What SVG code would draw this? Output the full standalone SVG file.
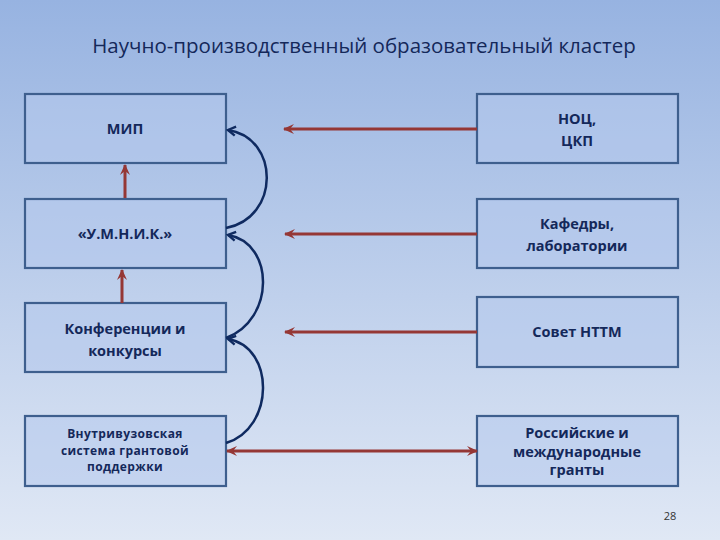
<svg xmlns="http://www.w3.org/2000/svg" width="720" height="540" viewBox="0 0 720 540">
<defs>
<linearGradient id="bg" x1="0" y1="0" x2="0" y2="1">
<stop offset="0" stop-color="#97b3e1"/>
<stop offset="1" stop-color="#e0e8f5"/>
</linearGradient>
<marker id="ra" markerWidth="12" markerHeight="12" refX="10" refY="6" orient="auto-start-reverse" markerUnits="userSpaceOnUse">
<path d="M0,1 L11,6 L0,11 L4,6 Z" fill="#953735"/>
</marker>
<marker id="ba" markerWidth="12" markerHeight="12" refX="9.5" refY="6" orient="auto" markerUnits="userSpaceOnUse">
<path d="M2,1.5 L9.5,6 L2,10.5" fill="none" stroke="#0f2a60" stroke-width="2.4"/>
</marker>
<style>
.box{fill:#b4c8ec;fill-opacity:0.55;stroke:#3e5f8e;stroke-width:2.2}
.t{font-family:"Open Sans","Noto Sans","DejaVu Sans",sans-serif;font-weight:bold;font-size:14.5px;fill:#14285a;text-anchor:middle}
.s{font-size:12px;letter-spacing:0.4px}
.red{stroke:#953735;stroke-width:3;fill:none}
.blue{stroke:#0f2a60;stroke-width:2.5;fill:none}
</style>
</defs>
<rect width="720" height="540" fill="url(#bg)"/>
<text x="364" y="53" font-family="'Open Sans','Noto Sans',sans-serif" font-size="20.5" fill="#14285a" text-anchor="middle">Научно-производственный образовательный кластер</text>

<g id="mip"><rect class="box" x="25" y="94" width="201" height="69"/><text class="t" x="125" y="134">МИП</text></g>
<g id="umnik"><rect class="box" x="25" y="199" width="201" height="69"/><text class="t" x="125" y="239">«У.М.Н.И.К.»</text></g>
<g id="conf"><rect class="box" x="25" y="303" width="201" height="69"/><text class="t" x="125" y="334">Конференции и</text><text class="t" x="125" y="356">конкурсы</text></g>
<g id="vnutri"><rect class="box" x="25" y="416" width="201" height="70"/><text class="t s" x="125" y="438">Внутривузовская</text><text class="t s" x="125" y="454.5">система грантовой</text><text class="t s" x="125" y="471">поддержки</text></g>

<g id="noc"><rect class="box" x="477" y="94" width="201" height="69"/><text class="t" x="577" y="124">НОЦ,</text><text class="t" x="577" y="146">ЦКП</text></g>
<g id="kaf"><rect class="box" x="477" y="199" width="201" height="69"/><text class="t" x="577" y="229">Кафедры,</text><text class="t" x="577" y="251">лаборатории</text></g>
<g id="sovet"><rect class="box" x="477" y="297" width="201" height="70"/><text class="t" x="577" y="337">Совет НТТМ</text></g>
<g id="ros"><rect class="box" x="477" y="416" width="201" height="70"/><text class="t" x="577" y="438">Российские и</text><text class="t" x="577" y="456.5">международные</text><text class="t" x="577" y="475">гранты</text></g>

<text x="670" y="520" font-family="'Open Sans','Noto Sans',sans-serif" font-size="11" fill="#333" text-anchor="middle">28</text>

<g id="connectors">
<line class="red" x1="477" y1="129" x2="284" y2="129" marker-end="url(#ra)"/>
<line class="red" x1="477" y1="234" x2="285" y2="234" marker-end="url(#ra)"/>
<line class="red" x1="477" y1="332" x2="285" y2="332" marker-end="url(#ra)"/>
<line class="red" x1="227" y1="451" x2="477" y2="451" marker-start="url(#ra)" marker-end="url(#ra)"/>
<line class="red" x1="125" y1="198" x2="125" y2="165" marker-end="url(#ra)"/>
<line class="red" x1="122" y1="303" x2="122" y2="270" marker-end="url(#ra)"/>
<path class="blue" d="M226,228 C280,218 280,138 228,130" marker-end="url(#ba)"/>
<path class="blue" d="M226,338 C275,320 275,243 228,235" marker-end="url(#ba)"/>
<path class="blue" d="M226,443 C275,428 275,347 228,339" marker-end="url(#ba)"/>
</g>
</svg>
